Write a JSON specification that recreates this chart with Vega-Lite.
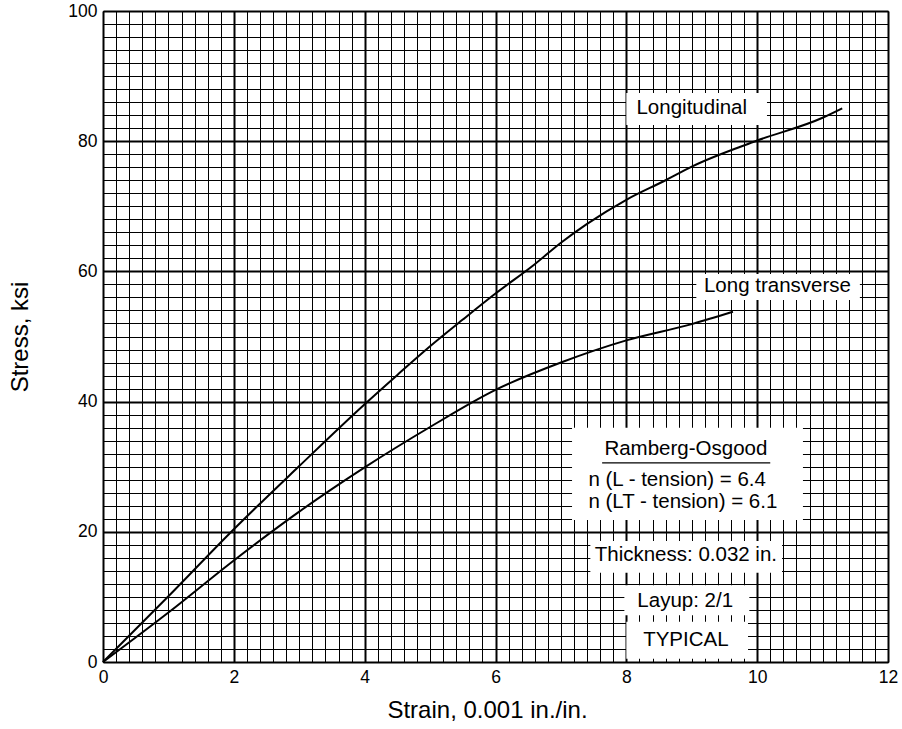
{
  "$schema": "https://vega.github.io/schema/vega-lite/v6.json",
  "width": 785,
  "height": 651,
  "autosize": {"type": "none"},
  "padding": {"left": 103, "top": 11, "right": 14, "bottom": 67},
  "background": "white",
  "config": {"view": {"stroke": "black", "strokeWidth": 1}, "font": "Liberation Sans"},
  "datasets": {
    "curves": [
      {"series": "Longitudinal", "strain": 0, "stress": 0},
      {"series": "Longitudinal", "strain": 1, "stress": 10.1},
      {"series": "Longitudinal", "strain": 2, "stress": 20.4},
      {"series": "Longitudinal", "strain": 3, "stress": 30.1},
      {"series": "Longitudinal", "strain": 4, "stress": 39.6},
      {"series": "Longitudinal", "strain": 4.5, "stress": 44.1},
      {"series": "Longitudinal", "strain": 5, "stress": 48.5},
      {"series": "Longitudinal", "strain": 5.5, "stress": 52.6},
      {"series": "Longitudinal", "strain": 6, "stress": 56.6},
      {"series": "Longitudinal", "strain": 6.6, "stress": 61.1},
      {"series": "Longitudinal", "strain": 7, "stress": 64.4},
      {"series": "Longitudinal", "strain": 7.4, "stress": 67.3},
      {"series": "Longitudinal", "strain": 8, "stress": 71.0},
      {"series": "Longitudinal", "strain": 8.6, "stress": 74.0},
      {"series": "Longitudinal", "strain": 9, "stress": 76.1},
      {"series": "Longitudinal", "strain": 10, "stress": 80.1},
      {"series": "Longitudinal", "strain": 11, "stress": 83.6},
      {"series": "Longitudinal", "strain": 11.3, "stress": 85.05},
      {"series": "Long transverse", "strain": 0, "stress": 0},
      {"series": "Long transverse", "strain": 1, "stress": 7.6},
      {"series": "Long transverse", "strain": 2, "stress": 15.6},
      {"series": "Long transverse", "strain": 3, "stress": 23.1},
      {"series": "Long transverse", "strain": 4, "stress": 29.9},
      {"series": "Long transverse", "strain": 5, "stress": 36.1},
      {"series": "Long transverse", "strain": 6, "stress": 41.8},
      {"series": "Long transverse", "strain": 7, "stress": 46.0},
      {"series": "Long transverse", "strain": 8, "stress": 49.4},
      {"series": "Long transverse", "strain": 9, "stress": 51.9},
      {"series": "Long transverse", "strain": 9.63, "stress": 53.8}
    ],
    "boxes": [
      {"strain": 8.0, "strain2": 10.15, "stress": 82.5, "stress2": 87.4},
      {"strain": 9.07, "strain2": 11.57, "stress": 55.6, "stress2": 59.6},
      {"strain": 7.17, "strain2": 10.7, "stress": 21.8, "stress2": 36.0},
      {"strain": 7.45, "strain2": 10.38, "stress": 13.7, "stress2": 18.6},
      {"strain": 7.97, "strain2": 9.88, "stress": 7.2, "stress2": 11.8},
      {"strain": 8.0, "strain2": 9.86, "stress": 0.5, "stress2": 6.2}
    ],
    "underline": [
      {"strain": 7.63, "strain2": 10.2, "stress": 30.6}
    ],
    "centerLabels": [
      {"strain": 9.0, "stress": 85.1, "text": "Longitudinal"},
      {"strain": 10.31, "stress": 57.8, "text": "Long transverse"},
      {"strain": 8.91, "stress": 32.7, "text": "Ramberg-Osgood"},
      {"strain": 8.91, "stress": 16.4, "text": "Thickness: 0.032 in."},
      {"strain": 8.9, "stress": 9.4, "text": "Layup: 2/1"},
      {"strain": 8.91, "stress": 3.4, "text": "TYPICAL"}
    ],
    "leftLabels": [
      {"strain": 7.42, "stress": 27.9, "text": "n (L - tension) = 6.4"},
      {"strain": 7.42, "stress": 24.6, "text": "n (LT - tension) = 6.1"}
    ]
  },
  "encoding": {
    "x": {
      "field": "strain",
      "type": "quantitative",
      "scale": {"domain": [0, 12], "nice": false, "zero": false},
      "axis": {
        "title": "Strain, 0.001 in./in.",
        "values": [0,0.2,0.4,0.6,0.8,1,1.2,1.4,1.6,1.8,2,2.2,2.4,2.6,2.8,3,3.2,3.4,3.6,3.8,4,4.2,4.4,4.6,4.8,5,5.2,5.4,5.6,5.8,6,6.2,6.4,6.6,6.8,7,7.2,7.4,7.6,7.8,8,8.2,8.4,8.6,8.8,9,9.2,9.4,9.6,9.8,10,10.2,10.4,10.6,10.8,11,11.2,11.4,11.6,11.8,12],
        "grid": true,
        "gridColor": "black",
        "gridOpacity": 1,
        "gridWidth": {"condition": {"test": "datum.value % 2 === 0", "value": 2}, "value": 1},
        "ticks": false,
        "labelExpr": "datum.value % 2 === 0 ? format(datum.value, 'd') : ''",
        "labelFont": "Liberation Sans",
        "labelFontSize": 17.5,
        "labelColor": "black",
        "labelPadding": 6,
        "labelFlush": false,
        "labelOverlap": false,
        "labelBound": false,
        "domainColor": "black",
        "titleFont": "Liberation Sans",
        "titleFontSize": 24,
        "titleFontWeight": "normal",
        "titleColor": "black",
        "titlePadding": 13,
        "titleX": 384
      }
    },
    "y": {
      "field": "stress",
      "type": "quantitative",
      "scale": {"domain": [0, 100], "nice": false},
      "axis": {
        "title": "Stress, ksi",
        "values": [0,2,4,6,8,10,12,14,16,18,20,22,24,26,28,30,32,34,36,38,40,42,44,46,48,50,52,54,56,58,60,62,64,66,68,70,72,74,76,78,80,82,84,86,88,90,92,94,96,98,100],
        "grid": true,
        "gridColor": "black",
        "gridOpacity": 1,
        "gridWidth": {"condition": {"test": "datum.value % 20 === 0", "value": 2}, "value": 1},
        "ticks": false,
        "labelExpr": "datum.value % 20 === 0 ? format(datum.value, 'd') : ''",
        "labelFont": "Liberation Sans",
        "labelFontSize": 17.5,
        "labelColor": "black",
        "labelPadding": 6,
        "labelFlush": false,
        "labelOverlap": false,
        "labelBound": false,
        "domainColor": "black",
        "titleFont": "Liberation Sans",
        "titleFontSize": 24,
        "titleFontWeight": "normal",
        "titleColor": "black",
        "titlePadding": 35
      }
    }
  },
  "layer": [
    {
      "data": {"name": "boxes"},
      "mark": {"type": "rect", "fill": "white", "strokeWidth": 0},
      "encoding": {"x2": {"field": "strain2"}, "y2": {"field": "stress2"}}
    },
    {
      "data": {"name": "underline"},
      "mark": {"type": "rule", "color": "black", "strokeWidth": 1.3},
      "encoding": {"x2": {"field": "strain2"}}
    },
    {
      "data": {"name": "curves"},
      "mark": {"type": "line", "color": "black", "strokeWidth": 2, "interpolate": "monotone"},
      "encoding": {"detail": {"field": "series"}}
    },
    {
      "data": {"name": "centerLabels"},
      "mark": {"type": "text", "align": "center", "baseline": "middle", "fontSize": 20.5, "font": "Liberation Sans", "color": "black"},
      "encoding": {"text": {"field": "text"}}
    },
    {
      "data": {"name": "leftLabels"},
      "mark": {"type": "text", "align": "left", "baseline": "middle", "fontSize": 20.5, "font": "Liberation Sans", "color": "black"},
      "encoding": {"text": {"field": "text"}}
    }
  ]
}
